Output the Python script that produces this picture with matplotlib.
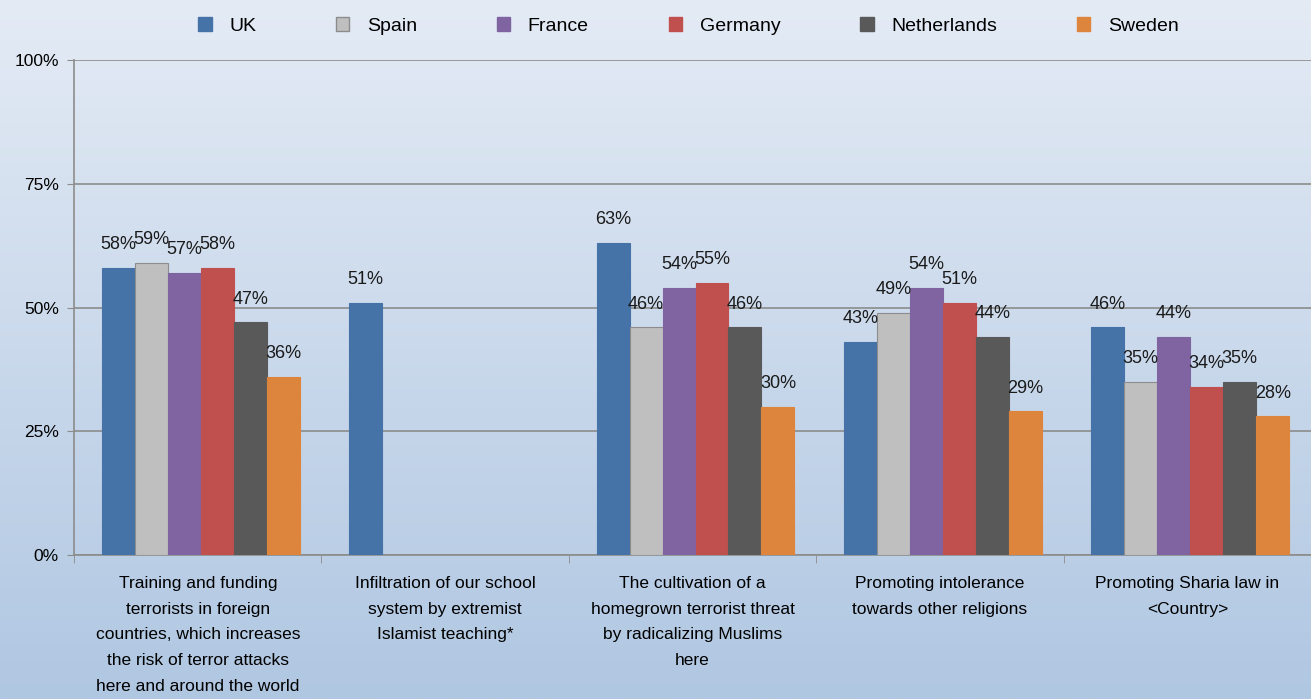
import matplotlib.pyplot as plt
import numpy as np
from matplotlib.patches import Patch

categories = ['Training and funding\nterrorists in foreign\ncountries, which increases\nthe risk of terror attacks\nhere and around the world',
              'Infiltration of our school\nsystem by extremist\nIslamist teaching*',
              'The cultivation of a\nhomegrown terrorist threat\nby radicalizing Muslims\nhere',
              'Promoting intolerance\ntowards other religions',
              'Promoting Sharia law in\n<Country>']
countries = ['UK', 'Spain', 'France', 'Germany', 'Netherlands', 'Sweden']
uk = [58, 51, 63, 43, 46]
spain = [59, None, 46, 49, 35]
france = [57, None, 54, 54, 44]
germany = [58, None, 55, 51, 34]
netherlands = [47, None, 46, 44, 35]
sweden = [36, None, 30, 29, 28]
series = [uk, spain, france, germany, netherlands, sweden]
colors = ['#4572A7', '#BFBFBF', '#8064A2', '#C0504D', '#595959', '#DD843D']
edges = ['#4572A7', '#8C8C8C', '#8064A2', '#C0504D', '#595959', '#DD843D']

plt.rcParams['font.family'] = ['Liberation Sans', 'DejaVu Sans']

fig = plt.figure(figsize=(13.11, 6.99), dpi=100)

# background gradient
bg = fig.add_axes([0, 0, 1, 1], zorder=-10)
top = np.array([228, 235, 245]) / 255
bot = np.array([176, 199, 226]) / 255
t = np.linspace(0, 1, 256)[:, None]
grad = top * (1 - t) + bot * t
bg.imshow(grad[:, None, :], aspect='auto', extent=[0, 1, 0, 1])
bg.axis('off')

ax = fig.add_axes([0.0565, 0.206, 0.9435, 0.708])
ax.patch.set_alpha(0)

n = len(series)
w = 0.8 / n
x = np.arange(len(categories))
for i, (vals, name) in enumerate(zip(series, countries)):
    for j, v in enumerate(vals):
        if v is None:
            continue
        xp = x[j] - 0.4 + w * (i + 0.5) + 0.012
        ax.bar(xp, v, width=w, color=colors[i], edgecolor=edges[i], linewidth=0.8, zorder=3)
        ax.text(xp, v + 3, '%d%%' % v, ha='center', va='bottom', fontsize=13, color='#1a1a1a', zorder=4)

ax.set_xlim(-0.5, len(categories) - 0.5)
ax.set_ylim(0, 100)
ax.set_yticks([0, 25, 50, 75, 100])
ax.set_yticklabels(['0%', '25%', '50%', '75%', '100%'], fontsize=12.5)
ax.yaxis.grid(True, color='#8c8c8c', linewidth=1.2, zorder=0)
ax.set_xticks(x)
ax.set_xticklabels(categories, fontsize=12.5, linespacing=1.9)
ax.tick_params(axis='x', length=0, pad=15)
ax.set_xticks(np.arange(-0.5, len(categories), 1), minor=True)
ax.tick_params(axis='x', which='minor', length=6, color='#8c8c8c', direction='out')
ax.tick_params(axis='y', length=5, color='#8c8c8c', pad=6)
for s in ['top', 'right']:
    ax.spines[s].set_visible(False)
ax.spines['left'].set_color('#8c8c8c')
ax.spines['bottom'].set_color('#8c8c8c')
ax.spines['left'].set_linewidth(1.2)
ax.spines['bottom'].set_linewidth(1.2)

handles = [Patch(facecolor=c, edgecolor=e) for c, e in zip(colors, edges)]
fig.legend(handles, countries, loc='upper center', bbox_to_anchor=(0.525, 1.0), ncol=6,
           frameon=False, fontsize=14, handlelength=0.7, handleheight=0.7,
           columnspacing=4.1, handletextpad=0.9)

plt.savefig('out.png', dpi=100)
